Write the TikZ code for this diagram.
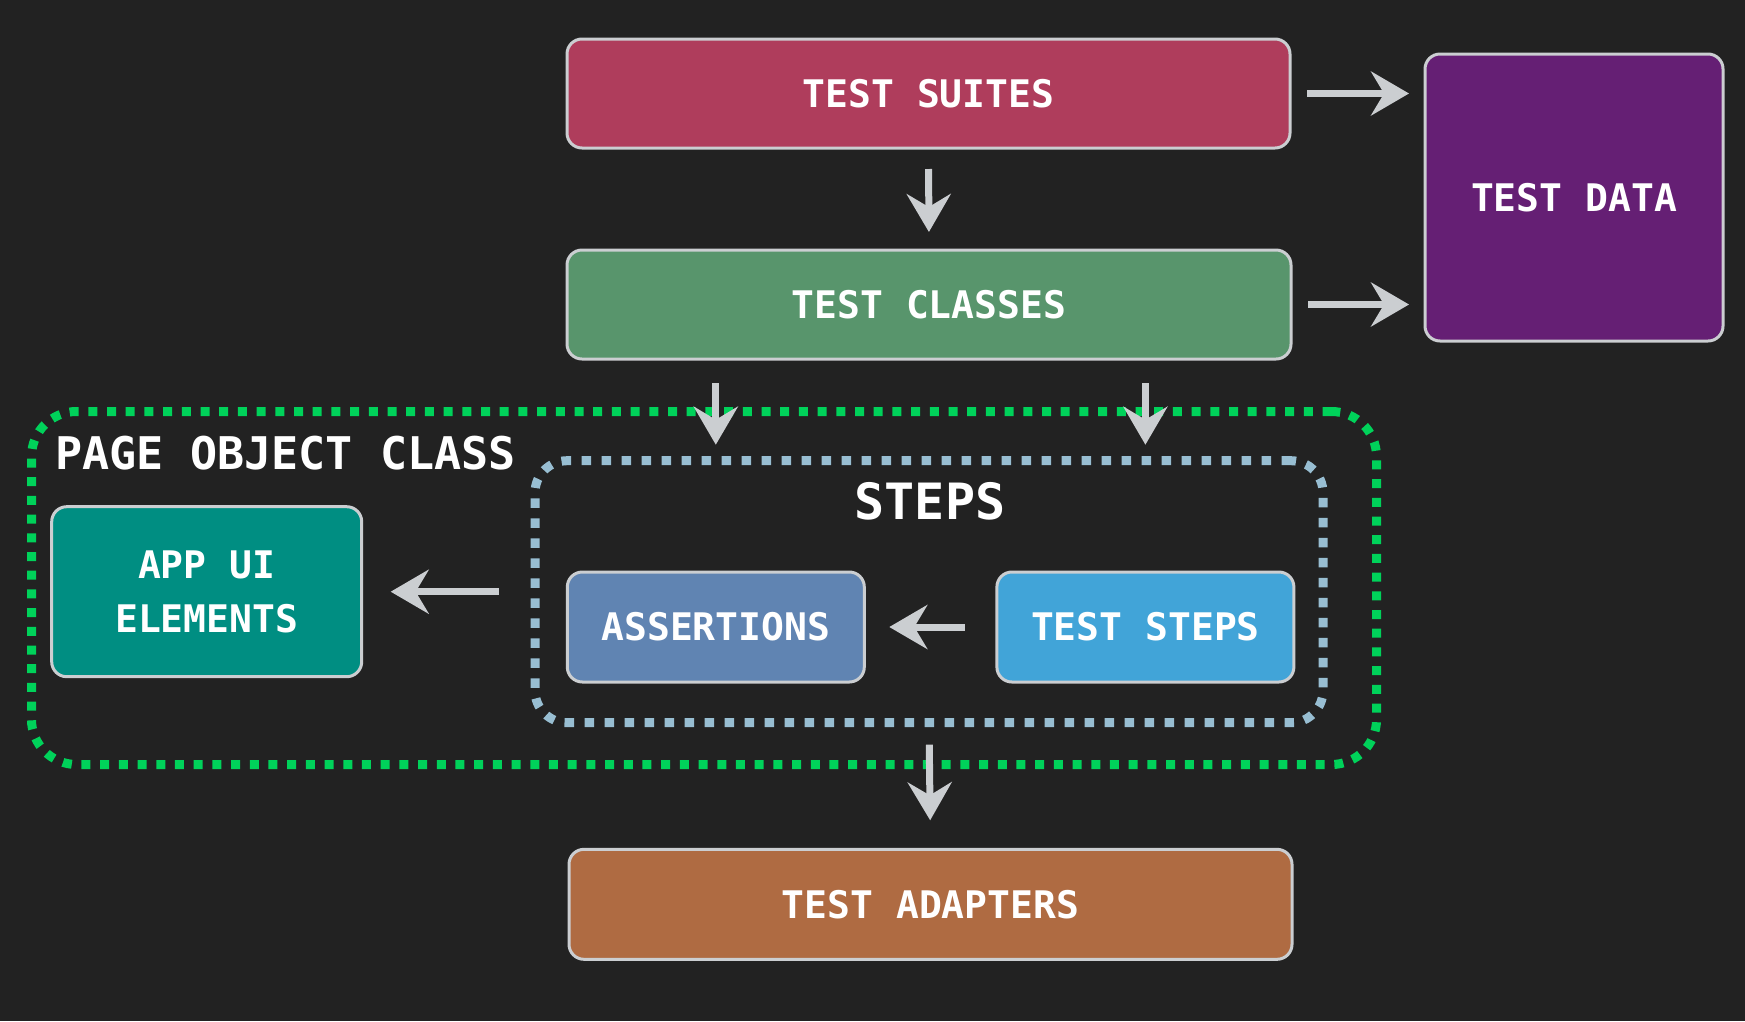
\documentclass[tikz,border=0pt]{standalone}
\usepackage{fontspec}
\newfontfamily\diagfont{DejaVu Sans Mono}[BoldFont={DejaVu Sans Mono Bold}]
\usetikzlibrary{arrows.meta}
\definecolor{bgc}{HTML}{222222}
\definecolor{suitesc}{HTML}{AF3D5C}
\definecolor{classesc}{HTML}{58956C}
\definecolor{datac}{HTML}{651F74}
\definecolor{adaptc}{HTML}{AF6B42}
\definecolor{appuic}{HTML}{008E82}
\definecolor{assertc}{HTML}{6084B2}
\definecolor{tstepsc}{HTML}{41A4D8}
\definecolor{greendot}{HTML}{00D25A}
\definecolor{bluedot}{HTML}{98BED2}
\definecolor{chalk}{HTML}{CBCED1}
\tikzset{
  box/.style={draw=chalk, line width=3pt, rounded corners=15pt, inner sep=0pt, outer sep=0pt,
    text=white, font=\diagfont\bfseries\fontsize{38}{53.7}\selectfont, align=center},
  greencont/.style={draw=greendot, line width=9pt, dash pattern=on 9pt off 9.7pt,
    rounded corners=45pt, inner sep=0pt, outer sep=0pt},
  bluecont/.style={draw=bluedot, line width=9pt, dash pattern=on 9.5pt off 10.5pt,
    rounded corners=32pt, inner sep=0pt, outer sep=0pt},
  chalkarrow/.style={draw=chalk, line width=7pt,
    -{Stealth[length=38pt,width=44pt,inset=13pt]}},
  label/.style={text=white, inner sep=0pt, outer sep=0pt}
}
\begin{document}
\begin{tikzpicture}[x=1pt,y=-1pt]
\fill[bgc] (0,0) rectangle (1745,1021);
\useasboundingbox (0,0) rectangle (1745,1021);

% containers
\node[greencont, minimum width=1345pt, minimum height=353pt] (pageobj) at (704,588) {};
\node[bluecont, minimum width=788pt, minimum height=262pt] (steps) at (929,591.7) {};
\node[label, anchor=base west, font=\diagfont\bfseries\fontsize{45}{45}\selectfont] (pagelabel) at (55,469) {PAGE OBJECT CLASS};
\node[label, anchor=base, font=\diagfont\bfseries\fontsize{50}{50}\selectfont] (stepslabel) at (930,519) {STEPS};

% boxes
\node[box, fill=suitesc, minimum width=723pt, minimum height=109pt] (suites) at (928.5,93.5) {TEST SUITES};
\node[box, fill=classesc, minimum width=724pt, minimum height=109pt] (classes) at (929,304.5) {TEST CLASSES};
\node[box, fill=datac, minimum width=298pt, minimum height=287pt] (data) at (1574,197.5) {TEST DATA};
\node[box, fill=adaptc, minimum width=723pt, minimum height=110pt] (adapters) at (930.5,904.3) {TEST ADAPTERS};
\node[box, fill=appuic, minimum width=310pt, minimum height=170pt] (appui) at (206.7,591.7) {APP UI\\ELEMENTS};
\node[box, fill=assertc, minimum width=297pt, minimum height=110pt] (assertions) at (715.8,627) {ASSERTIONS};
\node[box, fill=tstepsc, minimum width=297pt, minimum height=110pt] (teststeps) at (1145.4,627) {TEST STEPS};

% connectors
\draw[chalkarrow, shorten <=21pt, shorten >=18pt] (suites.south) -- (classes.north);
\draw[chalkarrow, shorten <=17pt, shorten >=16pt] (suites.east) -- (suites.east -| data.west);
\draw[chalkarrow, shorten <=17pt, shorten >=16pt] (classes.east) -- (classes.east -| data.west);
\draw[chalkarrow, shorten <=24pt, shorten >=16pt] (assertions |- classes.south) -- (assertions |- steps.north);
\draw[chalkarrow, shorten <=24pt, shorten >=16pt] (teststeps |- classes.south) -- (teststeps |- steps.north);
\draw[chalkarrow, shorten <=32pt, shorten >=25pt] (teststeps.west) -- (assertions.east);
\draw[chalkarrow, shorten <=36pt, shorten >=29pt] (steps.west) -- (appui.east);
\draw[chalkarrow, shorten <=22pt, shorten >=29pt] (steps.south) -- (adapters.north);
\end{tikzpicture}
\end{document}
